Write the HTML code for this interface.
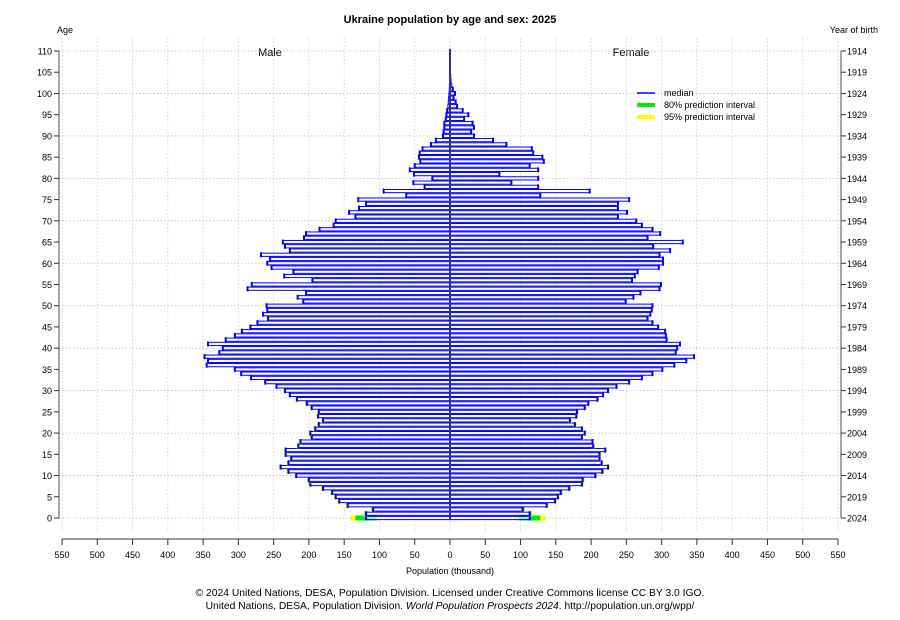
<!DOCTYPE html>
<html><head><meta charset="utf-8"><style>
body{margin:0;background:#fff;}
svg{display:block;font-family:"Liberation Sans",sans-serif;}
</style></head><body>
<svg id="chart" width="900" height="620" viewBox="0 0 900 620">
<text x="450" y="23" text-anchor="middle" font-size="11" font-weight="bold">Ukraine population by age and sex: 2025</text>
<text x="57" y="33" font-size="9">Age</text>
<text x="878" y="33" text-anchor="end" font-size="9">Year of birth</text>
<text x="270" y="56" text-anchor="middle" font-size="11">Male</text>
<text x="631" y="56" text-anchor="middle" font-size="11">Female</text>
<g id="grid"></g>
<g id="bars"></g>
<g id="axes"></g>
<g>
<line x1="637" y1="93" x2="655" y2="93" stroke="#0000ff" stroke-width="1.5"/>
<text x="664" y="96" font-size="9">median</text>
<line x1="637" y1="105" x2="655" y2="105" stroke="#00ee00" stroke-width="4"/>
<text x="664" y="108" font-size="9">80% prediction interval</text>
<line x1="637" y1="117" x2="655" y2="117" stroke="#ffff00" stroke-width="4"/>
<text x="664" y="120" font-size="9">95% prediction interval</text>
</g>
<text x="450" y="574" text-anchor="middle" font-size="9">Population (thousand)</text>
<text x="450" y="596" text-anchor="middle" font-size="10.3">© 2024 United Nations, DESA, Population Division. Licensed under Creative Commons license CC BY 3.0 IGO.</text>
<text x="450" y="609" text-anchor="middle" font-size="10.3">United Nations, DESA, Population Division. <tspan font-style="italic">World Population Prospects 2024</tspan>. http://population.un.org/wpp/</text>
</svg>
<script>
const male = [119,119,109,145,157,162,167,180,198,200,218,229,240,229,225,233,233,215,212,196,198,191,186,180,187,186,196,203,217,227,234,246,262,282,296,305,345,343,348,327,322,343,318,305,295,283,273,258,265,259,260,208,216,204,287,281,195,235,222,253,259,255,268,227,234,237,207,204,185,165,162,134,143,129,119,130,62,94,36,52,25,51,57,50,42,44,43,39,27,20,10,9,8,8,6,5,4,3,2.5,2,1.5,1,0.8,0.5,0.4,0.3,0.2,0.1,0.1,0.05,0.05];
const female = [113,113,103,137,149,153,157,169,187,188,206,216,224,215,212,212,220,203,202,187,191,187,177,170,179,180,191,196,209,217,224,236,254,272,287,301,318,335,346,320,322,326,307,306,305,295,287,280,284,286,287,249,260,270,297,299,258,262,266,296,302,302,297,312,288,330,280,298,287,272,264,238,251,238,238,254,128,198,125,87,125,70,125,113,133,131,118,116,80,61,34,30,34,32,20,26,18,10,8,5,7,4,2.5,1.5,1,0.6,0.4,0.2,0.1,0.1,0.05];
const pi80Half = [15,2,2,1.5,1.5,1.5,1.5,1.5,1.5,1.5,1.5,1.5,1.5,1.2,1.2,1.2,1.2,1.2,1.2,1.2,1.2,1.2,1.2,1.2,1.2,1.2,1.2,1.2,1,1,1];
const pi95Half = [22,3.5,3.5,3,3,3,3,3,3,3,2.5,2.5,2.5,2.5,2.5,2.5,2.5,2.5,2.5,2.5,2.5,2.5,2.5,2.5,2.5,2.5,2.5,2.5,2,2,2];
const xTicks = [550,500,450,400,350,300,250,200,150,100,50,0,50,100,150,200,250,300,350,400,450,500,550];
const ageTicks = [0,5,10,15,20,25,30,35,40,45,50,55,60,65,70,75,80,85,90,95,100,105,110];
const baseYear = 2024;

const NS="http://www.w3.org/2000/svg";
const cx=450, kx=388/550;
const xs = v => v*kx;
const ya = a => 518 - a*467/110;
function mk(tag, attrs, parent){const e=document.createElementNS(NS,tag);for(const k in attrs)e.setAttribute(k,attrs[k]);parent.appendChild(e);return e;}
const grid=document.getElementById('grid'), bars=document.getElementById('bars'), axes=document.getElementById('axes');

xTicks.forEach((t,i)=>{const x=cx+(i<11?-1:1)*xs(t);
 const l=mk('line',{x1:x,y1:38,x2:x,y2:532,stroke:'#ccc','stroke-width':0.8,'stroke-dasharray':'1.5,2'},grid);
 
 });
ageTicks.filter(a=>a%10===0).forEach(a=>{const l=mk('line',{x1:59,y1:ya(a),x2:840,y2:ya(a),stroke:'#bbb','stroke-width':0.8,'stroke-dasharray':'1.5,2'},grid);
 
 });

const bh=3.2;
for(let a=0;a<male.length;a++){
 const y=ya(a);
 if(a<pi95Half.length){
  [[pi95Half[a],'#ffff00'],[pi80Half[a],'#00ee00']].forEach(([h,c])=>{
   const m1=mk('rect',{x:cx-xs(male[a]+h),y:y-2.5,width:xs(2*h),height:5,fill:c},bars);
   
   
   const f1=mk('rect',{x:cx+xs(female[a]-h),y:y-2.5,width:xs(2*h),height:5,fill:c},bars);
   
   
  });
 }
 const mb=mk('rect',{x:cx-xs(male[a]),y:y-bh/2,width:xs(male[a]),height:bh,fill:'#fff','fill-opacity':0.6,stroke:'#0000ff','stroke-width':1},bars);
 
 
 const fb=mk('rect',{x:cx,y:y-bh/2,width:xs(female[a]),height:bh,fill:'#fff','fill-opacity':0.6,stroke:'#0000ff','stroke-width':1},bars);
 
 
 if(male[a]>3){const t=mk('line',{x1:cx-xs(male[a]),y1:y-2.5,x2:cx-xs(male[a]),y2:y+2.5,stroke:'#0000ff','stroke-width':2},bars);
  
  }
 if(female[a]>3){const t=mk('line',{x1:cx+xs(female[a]),y1:y-2.5,x2:cx+xs(female[a]),y2:y+2.5,stroke:'#0000ff','stroke-width':2},bars);
  
  }
}
const cl=mk('line',{x1:cx,y1:ya(110)-2,x2:cx,y2:ya(0)+2,stroke:'#303090','stroke-width':2},bars);



const la=mk('line',{x1:59,y1:ya(110),x2:59,y2:ya(0),stroke:'#888','stroke-width':1.5},axes);


const ra=mk('line',{x1:841,y1:ya(110),x2:841,y2:ya(0),stroke:'#888','stroke-width':1.5},axes);


const ba=mk('line',{x1:62,y1:539,x2:838,y2:539,stroke:'#333','stroke-width':1},axes);


ageTicks.forEach(a=>{const y=ya(a);
 const t1=mk('line',{x1:54,y1:y,x2:59,y2:y,stroke:'#333'},axes);
 
 
 const l1=mk('text',{x:52,y:y+3.5,'text-anchor':'end','font-size':9},axes);l1.textContent=a;
 
 
 const t2=mk('line',{x1:841,y1:y,x2:846,y2:y,stroke:'#333'},axes);
 
 
 const l2=mk('text',{x:847,y:y+3.5,'font-size':9},axes);l2.textContent=baseYear-a;
 
 
});
xTicks.forEach((t,i)=>{const x=cx+(i<11?-1:1)*xs(t);
 const tk=mk('line',{x1:x,y1:539,x2:x,y2:545,stroke:'#333'},axes);
 
 
 const tl=mk('text',{x:x,y:558,'text-anchor':'middle','font-size':9},axes);tl.textContent=t;
 
 
});
</script>
</body></html>
